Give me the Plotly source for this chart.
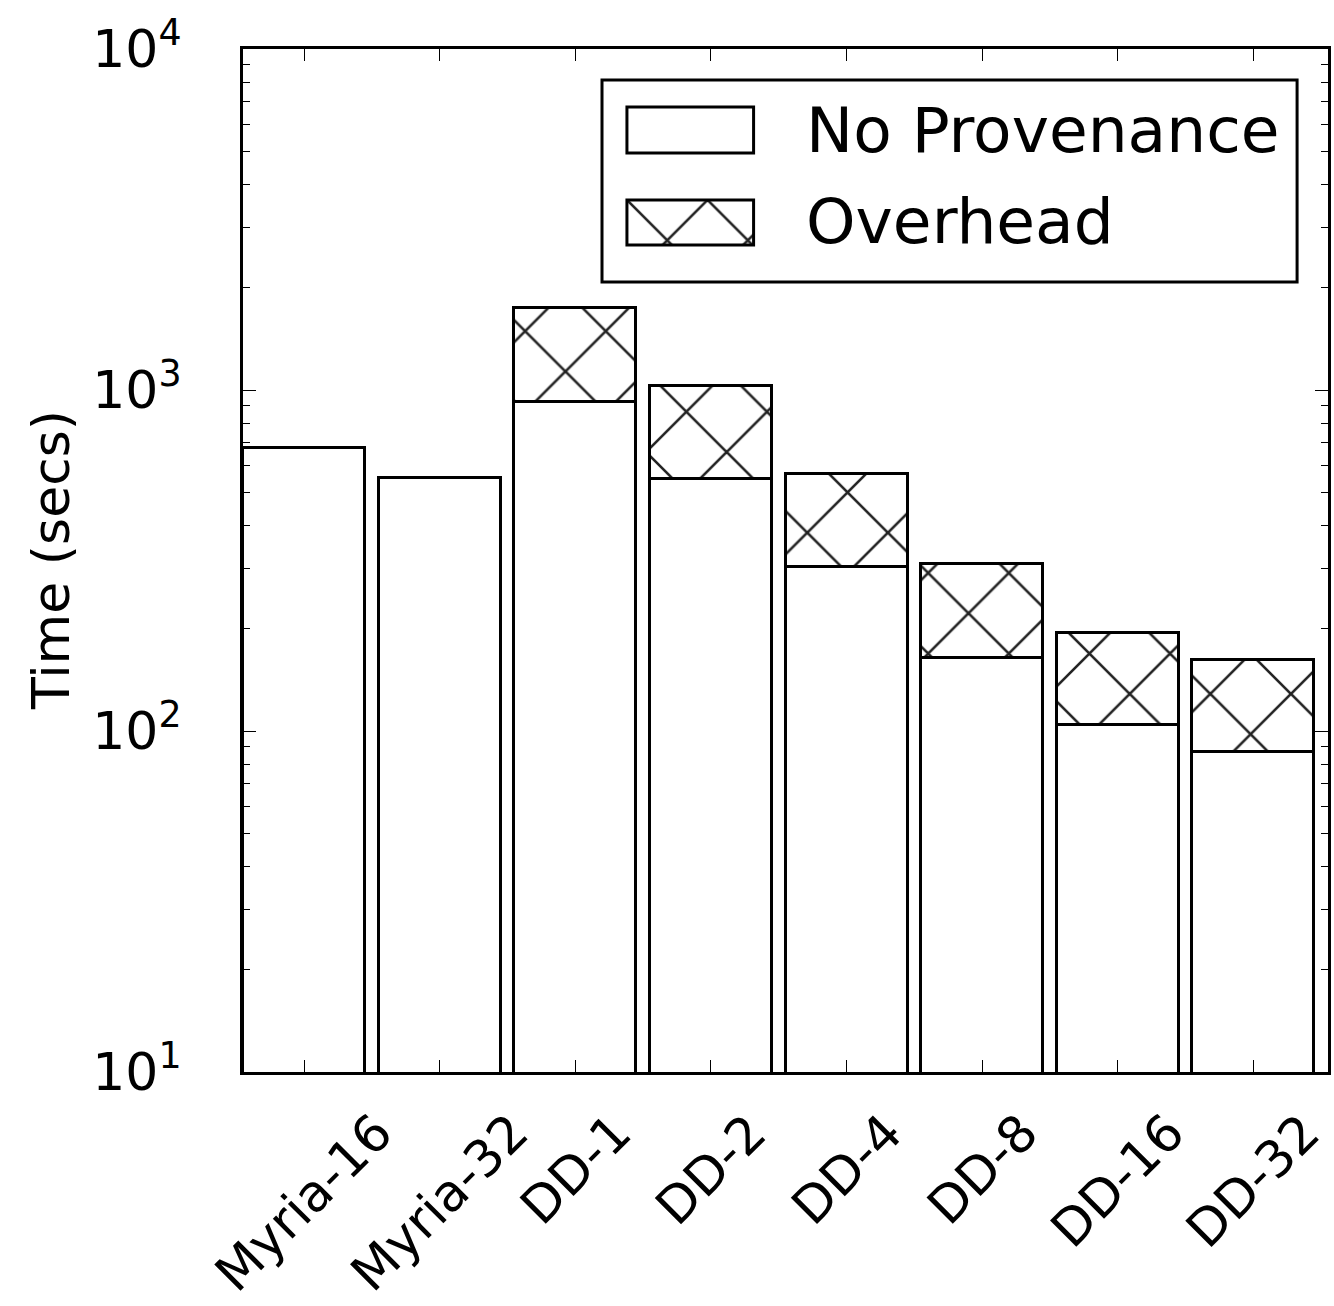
import plotly.graph_objects as go

# Run times per configuration (seconds)
categories = ["Myria-16", "Myria-32", "DD-1", "DD-2", "DD-4", "DD-8", "DD-16", "DD-32"]
no_provenance = [677, 553, 920, 547, 303, 164, 104, 87]
with_provenance = [None, None, 1736, 1029, 567, 309, 194, 161]

y_tick_vals = [10, 100, 1000, 10000]
y_tick_text = ["10<sup>1</sup>", "10<sup>2</sup>", "10<sup>3</sup>", "10<sup>4</sup>"]
y_minor_vals = [m * 10 ** k for k in (1, 2, 3) for m in range(2, 10)]

series_names = ["No Provenance", "Overhead"]

overhead = [None if w is None else w - n for w, n in zip(with_provenance, no_provenance)]

BAR_W = 0.9
x_pos = [i + BAR_W / 2 for i in range(len(categories))]

W, H = 1334, 1306
L, R, T, B = 243, 3, 49, 234
FONT = "DejaVu Sans"


def px_x(px):
    return (px - L) / (W - L - R)


def px_y(py):
    return (H - B - py) / (H - T - B)


# cross hatch: tile width = size*sqrt(2) (~80 px), thin dark strokes
hatch = dict(shape="x", size=57, solidity=0.09, fgcolor="#222222", fgopacity=1,
             bgcolor="white")

fig = go.Figure()

fig.add_trace(go.Bar(
    x=x_pos, y=no_provenance, width=BAR_W, name=series_names[0],
    marker=dict(color="white", line=dict(color="black", width=3)),
    showlegend=False, hoverinfo="skip",
))
fig.add_trace(go.Bar(
    x=x_pos, y=overhead, base=no_provenance, width=BAR_W, name=series_names[1],
    marker=dict(color="white", pattern=hatch, line=dict(color="black", width=3)),
    showlegend=False, hoverinfo="skip",
))

# hatched key swatch for the legend, drawn on a tiny auxiliary axis
fig.add_trace(go.Bar(
    x=[0], y=[1], width=1, xaxis="x2", yaxis="y2",
    marker=dict(color="white", pattern=hatch, line=dict(width=0)),
    showlegend=False, hoverinfo="skip",
))

annotations = []
for xp, label in zip(x_pos, categories):
    annotations.append(dict(
        x=xp, xref="x", y=px_y(1100), yref="paper",
        text=label, showarrow=False, textangle=-45,
        xanchor="center", yanchor="top",
        font=dict(family=FONT, size=51, color="black"),
    ))

annotations.append(dict(
    x=px_x(50), xref="paper", y=0.5, yref="paper",
    text="Time (secs)", showarrow=False, textangle=-90,
    xanchor="center", yanchor="middle",
    font=dict(family=FONT, size=52, color="black"),
))

# legend entries
for name, cy in zip(series_names, [130, 222]):
    annotations.append(dict(
        x=px_x(806), xref="paper", y=px_y(cy), yref="paper",
        text=name, showarrow=False, xanchor="left", yanchor="middle",
        font=dict(family=FONT, size=63, color="black"),
    ))

shapes = [
    dict(type="rect", xref="paper", yref="paper",
         x0=px_x(603), x1=px_x(1300), y0=px_y(282), y1=px_y(80),
         line=dict(color="black", width=3), fillcolor="rgba(0,0,0,0)"),
    dict(type="rect", xref="paper", yref="paper",
         x0=px_x(628), x1=px_x(755), y0=px_y(153), y1=px_y(107),
         line=dict(color="black", width=3), fillcolor="white"),
    dict(type="rect", xref="paper", yref="paper",
         x0=px_x(628), x1=px_x(755), y0=px_y(245), y1=px_y(200),
         line=dict(color="black", width=3), fillcolor="rgba(0,0,0,0)"),
]

fig.update_layout(
    width=W, height=H,
    margin=dict(l=L, r=R, t=T, b=B, pad=0),
    paper_bgcolor="white", plot_bgcolor="white",
    barmode="overlay", bargap=0,
    font=dict(family=FONT, color="black"),
    annotations=annotations,
    shapes=shapes,
    xaxis=dict(
        range=[0, 8], tickvals=x_pos, showticklabels=False,
        ticks="inside", ticklen=12, tickwidth=1, tickcolor="black",
        showline=True, linewidth=3, linecolor="black", mirror="allticks",
        showgrid=False, zeroline=False, fixedrange=True,
    ),
    yaxis=dict(
        type="log", range=[1, 4],
        tickvals=y_tick_vals, ticktext=y_tick_text,
        tickfont=dict(family=FONT, size=52, color="black"),
        ticks="inside", ticklen=13, tickwidth=1, tickcolor="black",
        ticklabelstandoff=48,
        minor=dict(tickvals=y_minor_vals, ticks="inside", ticklen=7, tickwidth=1,
                   tickcolor="black", showgrid=False),
        showline=True, linewidth=3, linecolor="black", mirror="allticks",
        showgrid=False, zeroline=False, fixedrange=True,
    ),
    xaxis2=dict(domain=[px_x(628), px_x(755)], range=[-0.5, 0.5], anchor="y2",
                visible=False, fixedrange=True),
    yaxis2=dict(domain=[px_y(245), px_y(200)], range=[0, 1], anchor="x2",
                visible=False, fixedrange=True),
)

fig.write_html("out.html")
